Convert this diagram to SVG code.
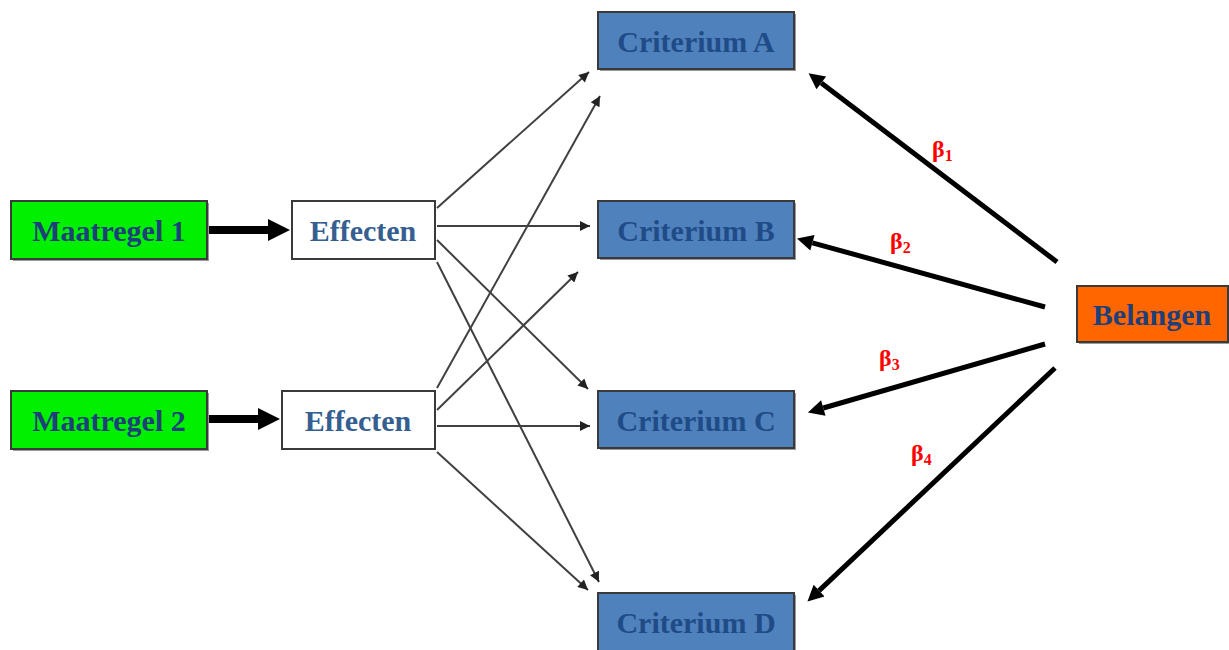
<svg xmlns="http://www.w3.org/2000/svg" width="1229" height="650" viewBox="0 0 1229 650">
<style>
.box{stroke:#3a3a3a;stroke-width:2}
.shadow{fill:#9a9a9a}
.t{font-family:"Liberation Serif","Times New Roman",serif;font-weight:bold;font-size:30px;text-anchor:middle;dominant-baseline:central}
.tg{fill:#1f3f7a}
.tc{fill:#1f4b86}
.te{fill:#365f91}
.thin{stroke:#404040;stroke-width:2;fill:none}
.thick{stroke:#000;stroke-width:5;fill:none}
.fat{stroke:#000;stroke-width:8;fill:none}
.beta{font-family:"Liberation Serif","Times New Roman",serif;font-weight:bold;font-size:24px;fill:#ff0000}
</style>
<defs>
<marker id="ah" viewBox="0 0 10 10" refX="10" refY="5" markerWidth="13" markerHeight="10" markerUnits="userSpaceOnUse" orient="auto"><path d="M0,0 L10,5 L0,10 z" fill="#222"/></marker>
<marker id="ahs" viewBox="0 0 10 10" refX="0" refY="5" markerWidth="18" markerHeight="16" markerUnits="userSpaceOnUse" orient="auto"><path d="M0,0 L10,5 L0,10 z" fill="#000"/></marker>
<marker id="ahb" viewBox="0 0 10 10" refX="0" refY="5" markerWidth="22" markerHeight="24" markerUnits="userSpaceOnUse" orient="auto"><path d="M0,0 L10,5 L0,10 z" fill="#000"/></marker>
</defs>

<g id="connectors">
<line class="fat" x1="207" y1="230" x2="268" y2="230" marker-end="url(#ahb)"/>
<line class="fat" x1="207" y1="419" x2="258" y2="419" marker-end="url(#ahb)"/>
<line class="thin" x1="437" y1="208" x2="589" y2="72" marker-end="url(#ah)"/>
<line class="thin" x1="437" y1="226" x2="590" y2="226" marker-end="url(#ah)"/>
<line class="thin" x1="437" y1="240" x2="588" y2="389" marker-end="url(#ah)"/>
<line class="thin" x1="437" y1="262" x2="599" y2="582" marker-end="url(#ah)"/>
<line class="thin" x1="437" y1="388" x2="600" y2="96" marker-end="url(#ah)"/>
<line class="thin" x1="437" y1="410" x2="578" y2="272" marker-end="url(#ah)"/>
<line class="thin" x1="437" y1="426" x2="590" y2="426" marker-end="url(#ah)"/>
<line class="thin" x1="437" y1="452" x2="588" y2="590" marker-end="url(#ah)"/>
<line class="thick" x1="1057" y1="262" x2="821.3" y2="82.9" marker-end="url(#ahs)"/>
<line class="thick" x1="1045" y1="307" x2="812.4" y2="242.8" marker-end="url(#ahs)"/>
<line class="thick" x1="1045" y1="344" x2="823.3" y2="408" marker-end="url(#ahs)"/>
<line class="thick" x1="1055" y1="368" x2="819.1" y2="590.6" marker-end="url(#ahs)"/>
</g>

<g id="beta-labels">
<text class="beta" x="932" y="157">β<tspan font-size="16" dy="4">1</tspan></text>
<text class="beta" x="890" y="249">β<tspan font-size="16" dy="4">2</tspan></text>
<text class="beta" x="879" y="366">β<tspan font-size="16" dy="4">3</tspan></text>
<text class="beta" x="911" y="461">β<tspan font-size="16" dy="4">4</tspan></text>
</g>

<g id="maatregel1">
<rect class="shadow" x="13" y="203" width="196" height="58"/>
<rect class="box" x="11" y="201" width="196" height="58" fill="#00f000"/>
<text class="t tg" x="109" y="230">Maatregel 1</text>
</g>
<g id="maatregel2">
<rect class="shadow" x="13" y="393" width="196" height="58"/>
<rect class="box" x="11" y="391" width="196" height="58" fill="#00f000"/>
<text class="t tg" x="109" y="420">Maatregel 2</text>
</g>
<g id="effecten1">
<rect class="box" x="292" y="201" width="143" height="58" fill="#fff"/>
<text class="t te" x="363" y="230">Effecten</text>
</g>
<g id="effecten2">
<rect class="box" x="282" y="391" width="153" height="58" fill="#fff"/>
<text class="t te" x="358" y="420">Effecten</text>
</g>
<g id="criteriumA">
<rect class="shadow" x="600" y="14" width="196" height="57"/>
<rect class="box" x="598" y="12" width="196" height="57" fill="#4f81bd"/>
<text class="t tc" x="696" y="41">Criterium A</text>
</g>
<g id="criteriumB">
<rect class="shadow" x="600" y="203" width="196" height="57"/>
<rect class="box" x="598" y="201" width="196" height="57" fill="#4f81bd"/>
<text class="t tc" x="696" y="230">Criterium B</text>
</g>
<g id="criteriumC">
<rect class="shadow" x="600" y="393" width="196" height="57"/>
<rect class="box" x="598" y="391" width="196" height="57" fill="#4f81bd"/>
<text class="t tc" x="696" y="420">Criterium C</text>
</g>
<g id="criteriumD">
<rect class="shadow" x="600" y="595" width="196" height="60"/>
<rect class="box" x="598" y="593" width="196" height="60" fill="#4f81bd"/>
<text class="t tc" x="696" y="622">Criterium D</text>
</g>
<g id="belangen">
<rect class="shadow" x="1079" y="288" width="151" height="56"/>
<rect class="box" x="1077" y="286" width="151" height="56" fill="#ff6600" stroke="#8a3a10"/>
<text class="t tg" x="1152" y="314">Belangen</text>
</g>
</svg>
